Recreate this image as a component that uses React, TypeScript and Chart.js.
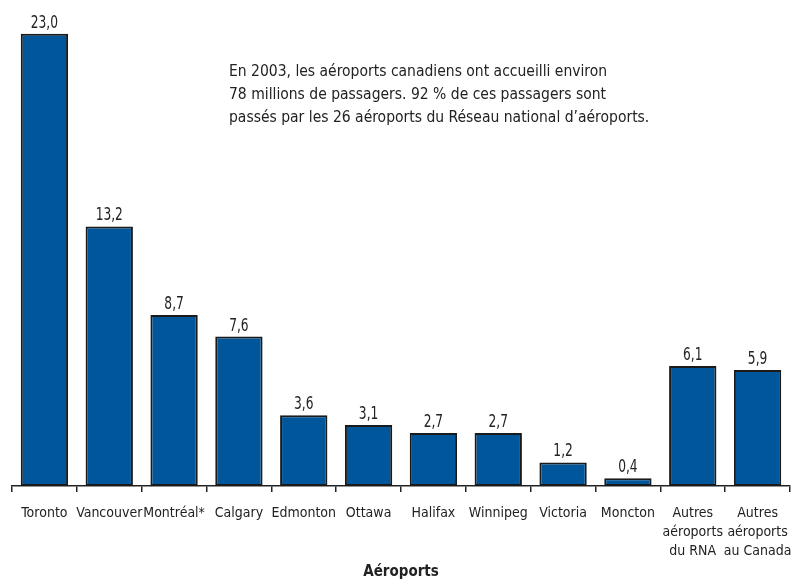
import React, { useEffect, useRef } from "react";
import { Chart, registerables } from "chart.js";

Chart.register(...registerables);

const categories: (string | string[])[] = [
  "Toronto",
  "Vancouver",
  "Montréal*",
  "Calgary",
  "Edmonton",
  "Ottawa",
  "Halifax",
  "Winnipeg",
  "Victoria",
  "Moncton",
  ["Autres", "aéroports", "du RNA"],
  ["Autres", "aéroports", "au Canada"],
];

const passengers: number[] = [23.0, 13.2, 8.7, 7.6, 3.6, 3.1, 2.7, 2.7, 1.2, 0.4, 6.1, 5.9];

const noteLines: string[] = [
  "En 2003, les aéroports canadiens ont accueilli environ",
  "78 millions de passagers. 92 % de ces passagers sont",
  "passés par les 26 aéroports du Réseau national d’aéroports.",
];

const axisTitle = "Aéroports";

const FONT = "'Liberation Sans Narrow', 'DejaVu Sans Condensed', 'Roboto Condensed', Roboto, sans-serif";
const TEXT = "#222222";

const fmt = (v: number) => v.toFixed(1).replace(".", ",");

const labelPlugin = {
  id: "valueLabels",
  afterDatasetsDraw(chart: any) {
    const ctx = chart.ctx;
    const meta = chart.getDatasetMeta(0);
    ctx.save();
    ctx.font = `17px ${FONT}`;
    ctx.fillStyle = TEXT;
    ctx.textAlign = "center";
    ctx.textBaseline = "alphabetic";
    const sx = 0.8;
    meta.data.forEach((bar: any, i: number) => {
      ctx.save();
      ctx.translate(bar.x, bar.y - 6);
      ctx.scale(sx, 1);
      ctx.fillText(fmt(passengers[i]), 0, 0);
      ctx.restore();
    });
    ctx.font = `15.5px ${FONT}`;
    ctx.textAlign = "left";
    ctx.textBaseline = "middle";
    noteLines.forEach((line, i) => {
      ctx.fillText(line, 229, 72 + i * 23);
    });
    ctx.restore();
  },
};

export default function App() {
  const ref = useRef<HTMLCanvasElement | null>(null);
  useEffect(() => {
    document.body.style.margin = "0";
    if (!ref.current) return;
    const chart = new Chart(ref.current, {
      type: "bar",
      data: {
        labels: categories,
        datasets: [
          {
            data: passengers,
            backgroundColor: "#00569b",
            borderColor: "#1a1a1a",
            borderWidth: 2,
            borderSkipped: false,
            categoryPercentage: 1,
            barPercentage: 0.73,
          },
        ],
      },
      options: {
        animation: false,
        responsive: false,
        maintainAspectRatio: false,
        layout: { padding: { top: 14, left: 12, right: 6, bottom: 4 } },
        plugins: { legend: { display: false }, tooltip: { enabled: false } },
        scales: {
          y: { display: false, min: 0, max: 24 },
          x: {
            afterFit(scale: any) {
              scale.paddingLeft = 0;
              scale.paddingRight = 0;
              scale.height = 95;
            },
            grid: {
              display: true,
              drawOnChartArea: false,
              drawTicks: true,
              tickLength: 6,
              color: "#222",
              lineWidth: 1.5,
            },
            border: { display: true, color: "#222", width: 1.5 },
            ticks: {
              color: TEXT,
              font: { family: FONT, size: 14, lineHeight: 1.35 },
              padding: 12,
              maxRotation: 0,
              autoSkip: false,
            },
            title: {
              display: true,
              text: axisTitle,
              color: TEXT,
              font: { family: FONT, size: 15, weight: "bold" },
              padding: { top: 2, bottom: 0 },
            },
          },
        },
      },
      plugins: [labelPlugin],
    });
    return () => chart.destroy();
  }, []);
  return (
    <div style={{ width: 796, height: 585 }}>
      <canvas ref={ref} width={796} height={585} style={{ display: "block" }} />
    </div>
  );
}
